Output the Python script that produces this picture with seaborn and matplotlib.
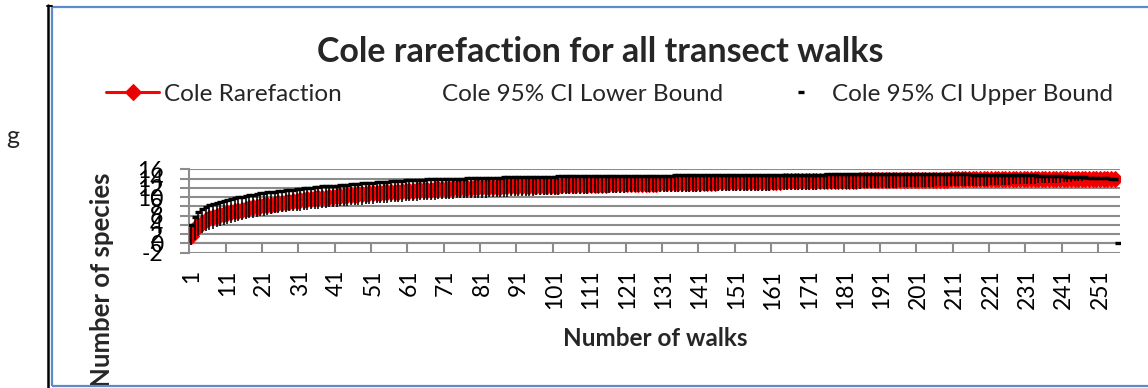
import numpy as np
import pandas as pd
import matplotlib
matplotlib.use("Agg")
import matplotlib.pyplot as plt
from matplotlib.lines import Line2D
from matplotlib.patches import Rectangle
import seaborn as sns

# Walk index (categories); the last category only carries an upper-bound point
walks = np.arange(1, 257)

# Cole rarefaction curve: expected number of species after n walks
rarefaction = [
    1.7, 3.0, 3.9, 4.5, 5.0, 5.4, 5.7, 6.0, 6.2, 6.4,
    6.6, 6.8, 7.0, 7.1, 7.3, 7.5, 7.6, 7.8, 7.9, 8.1,
    8.2, 8.3, 8.4, 8.6, 8.7, 8.8, 8.9, 9.0, 9.1, 9.2,
    9.3, 9.4, 9.5, 9.6, 9.7, 9.8, 9.8, 9.9, 10.0, 10.1,
    10.2, 10.2, 10.3, 10.4, 10.4, 10.5, 10.6, 10.6, 10.7, 10.8,
    10.8, 10.9, 10.9, 11.0, 11.1, 11.1, 11.2, 11.2, 11.3, 11.3,
    11.4, 11.4, 11.5, 11.5, 11.5, 11.6, 11.6, 11.7, 11.7, 11.8,
    11.8, 11.8, 11.9, 11.9, 11.9, 12.0, 12.0, 12.0, 12.1, 12.1,
    12.1, 12.1, 12.2, 12.2, 12.2, 12.2, 12.3, 12.3, 12.3, 12.3,
    12.3, 12.4, 12.4, 12.4, 12.4, 12.4, 12.5, 12.5, 12.5, 12.5,
    12.5, 12.5, 12.6, 12.6, 12.6, 12.6, 12.6, 12.6, 12.7, 12.7,
    12.7, 12.7, 12.7, 12.7, 12.7, 12.8, 12.8, 12.8, 12.8, 12.8,
    12.8, 12.8, 12.9, 12.9, 12.9, 12.9, 12.9, 12.9, 12.9, 13.0,
    13.0, 13.0, 13.0, 13.0, 13.0, 13.0, 13.0, 13.1, 13.1, 13.1,
    13.1, 13.1, 13.1, 13.1, 13.1, 13.2, 13.2, 13.2, 13.2, 13.2,
    13.2, 13.2, 13.2, 13.2, 13.3, 13.3, 13.3, 13.3, 13.3, 13.3,
    13.3, 13.3, 13.3, 13.4, 13.4, 13.4, 13.4, 13.4, 13.4, 13.4,
    13.4, 13.4, 13.4, 13.5, 13.5, 13.5, 13.5, 13.5, 13.5, 13.5,
    13.5, 13.5, 13.5, 13.5, 13.6, 13.6, 13.6, 13.6, 13.6, 13.6,
    13.6, 13.6, 13.6, 13.6, 13.6, 13.6, 13.7, 13.7, 13.7, 13.7,
    13.7, 13.7, 13.7, 13.7, 13.7, 13.7, 13.7, 13.7, 13.7, 13.8,
    13.8, 13.8, 13.8, 13.8, 13.8, 13.8, 13.8, 13.8, 13.8, 13.8,
    13.8, 13.8, 13.8, 13.8, 13.8, 13.8, 13.8, 13.8, 13.9, 13.9,
    13.9, 13.9, 13.9, 13.9, 13.9, 13.9, 13.9, 13.9, 13.9, 13.9,
    13.9, 13.9, 13.9, 13.9, 13.9, 13.9, 13.9, 14.0, 14.0, 14.0,
    14.0, 14.0, 14.0, 14.0, 14.0,
]

# Lower bound of the 95% confidence interval
ci_lower = [
    -0.3, 0.8, 1.6, 2.2, 2.6, 2.9, 3.2, 3.5, 3.8, 4.0,
    4.2, 4.4, 4.7, 4.9, 5.0, 5.2, 5.4, 5.5, 5.7, 5.9,
    6.0, 6.2, 6.3, 6.5, 6.6, 6.7, 6.8, 6.9, 7.0, 7.0,
    7.1, 7.2, 7.3, 7.4, 7.5, 7.5, 7.6, 7.7, 7.8, 7.9,
    7.9, 8.0, 8.1, 8.1, 8.2, 8.3, 8.3, 8.4, 8.5, 8.6,
    8.6, 8.7, 8.7, 8.8, 8.8, 8.9, 8.9, 9.0, 9.0, 9.1,
    9.1, 9.2, 9.2, 9.3, 9.3, 9.3, 9.4, 9.4, 9.5, 9.5,
    9.5, 9.6, 9.6, 9.7, 9.7, 9.7, 9.8, 9.8, 9.8, 9.9,
    9.9, 9.9, 10.0, 10.0, 10.0, 10.1, 10.1, 10.1, 10.2, 10.2,
    10.2, 10.3, 10.3, 10.3, 10.3, 10.4, 10.4, 10.4, 10.5, 10.5,
    10.5, 10.5, 10.6, 10.6, 10.6, 10.6, 10.7, 10.7, 10.7, 10.7,
    10.8, 10.8, 10.8, 10.8, 10.8, 10.9, 10.9, 10.9, 10.9, 10.9,
    11.0, 11.0, 11.0, 11.0, 11.0, 11.1, 11.1, 11.1, 11.1, 11.1,
    11.1, 11.1, 11.1, 11.2, 11.2, 11.2, 11.2, 11.2, 11.2, 11.2,
    11.2, 11.3, 11.3, 11.3, 11.3, 11.3, 11.3, 11.3, 11.3, 11.3,
    11.3, 11.3, 11.4, 11.4, 11.4, 11.4, 11.4, 11.4, 11.4, 11.4,
    11.5, 11.5, 11.5, 11.5, 11.5, 11.6, 11.6, 11.6, 11.6, 11.6,
    11.6, 11.6, 11.6, 11.7, 11.7, 11.7, 11.7, 11.7, 11.7, 11.7,
    11.8, 11.8, 11.8, 11.8, 11.8, 11.9, 11.9, 11.9, 11.9, 11.9,
    12.0, 12.0, 12.0, 12.0, 12.0, 12.1, 12.1, 12.1, 12.1, 12.1,
    12.2, 12.2, 12.2, 12.2, 12.2, 12.3, 12.3, 12.3, 12.3, 12.3,
    12.4, 12.4, 12.4, 12.4, 12.4, 12.5, 12.5, 12.5, 12.5, 12.5,
    12.6, 12.6, 12.6, 12.7, 12.7, 12.7, 12.8, 12.8, 12.8, 12.8,
    12.9, 12.9, 12.9, 13.0, 13.0, 13.0, 13.1, 13.1, 13.1, 13.1,
    13.2, 13.3, 13.3, 13.4, 13.5, 13.5, 13.6, 13.7, 13.7, 13.8,
    13.8, 13.9, 13.9, 14.0, 14.0,
]

# Upper bound of the 95% confidence interval (last entry is an empty cell read as 0)
ci_upper = [
    4.0, 5.8, 6.8, 7.4, 7.8, 8.2, 8.5, 8.7, 9.0, 9.2,
    9.4, 9.6, 9.8, 10.0, 10.1, 10.3, 10.4, 10.5, 10.7, 10.8,
    10.9, 11.0, 11.1, 11.2, 11.3, 11.4, 11.5, 11.6, 11.6, 11.7,
    11.8, 11.9, 12.0, 12.0, 12.1, 12.2, 12.3, 12.3, 12.4, 12.5,
    12.5, 12.6, 12.7, 12.7, 12.8, 12.8, 12.9, 13.0, 13.0, 13.1,
    13.1, 13.2, 13.2, 13.3, 13.3, 13.4, 13.4, 13.5, 13.5, 13.6,
    13.6, 13.6, 13.7, 13.7, 13.7, 13.8, 13.8, 13.8, 13.9, 13.9,
    13.9, 13.9, 14.0, 14.0, 14.0, 14.0, 14.1, 14.1, 14.1, 14.1,
    14.1, 14.2, 14.2, 14.2, 14.2, 14.2, 14.3, 14.3, 14.3, 14.3,
    14.3, 14.3, 14.3, 14.4, 14.4, 14.4, 14.4, 14.4, 14.4, 14.4,
    14.4, 14.5, 14.5, 14.5, 14.5, 14.5, 14.5, 14.5, 14.5, 14.5,
    14.5, 14.5, 14.5, 14.5, 14.5, 14.6, 14.6, 14.6, 14.6, 14.6,
    14.6, 14.6, 14.6, 14.6, 14.6, 14.6, 14.6, 14.6, 14.6, 14.6,
    14.6, 14.6, 14.6, 14.7, 14.7, 14.7, 14.7, 14.7, 14.7, 14.7,
    14.7, 14.7, 14.7, 14.7, 14.7, 14.7, 14.7, 14.7, 14.7, 14.7,
    14.7, 14.7, 14.7, 14.7, 14.8, 14.8, 14.8, 14.8, 14.8, 14.8,
    14.8, 14.8, 14.8, 14.8, 14.8, 14.8, 14.8, 14.8, 14.8, 14.8,
    14.8, 14.8, 14.8, 14.8, 14.8, 14.9, 14.9, 14.9, 14.9, 14.9,
    14.9, 14.9, 14.9, 14.9, 14.9, 14.9, 14.9, 14.9, 14.9, 14.9,
    14.9, 14.9, 14.9, 14.9, 14.9, 14.9, 14.9, 14.9, 14.9, 14.9,
    14.9, 14.9, 14.9, 14.9, 14.9, 14.9, 14.9, 14.9, 14.9, 14.9,
    14.9, 14.9, 14.9, 14.9, 14.9, 14.8, 14.8, 14.8, 14.8, 14.8,
    14.8, 14.8, 14.8, 14.8, 14.8, 14.7, 14.7, 14.7, 14.7, 14.7,
    14.7, 14.7, 14.7, 14.6, 14.6, 14.6, 14.6, 14.5, 14.5, 14.5,
    14.5, 14.4, 14.4, 14.4, 14.3, 14.3, 14.3, 14.2, 14.2, 14.2,
    14.1, 14.1, 14.1, 14.0, 14.0, 0.0,
]

x_labels = [str(w) for w in walks[::10]]
y_values = [-2, 0, 2, 4, 6, 8, 10, 12, 14, 16]

TITLE = "Cole rarefaction for all transect walks"
LABEL_RARE = "Cole Rarefaction"
LABEL_LOW = "Cole 95% CI Lower Bound"
LABEL_UP = "Cole 95% CI Upper Bound"

sns.set_style("white")
plt.rcParams["font.family"] = ["Lato", "DejaVu Sans"]

W, H = 1148, 388
GRID = "#8C8C8C"
LEG_FS = 17.5


def fx(px):
    return px / W


def fy(py):
    return 1 - py / H


fig = plt.figure(figsize=(W / 100, H / 100), dpi=100)
fig.patch.set_facecolor("white")

ax = fig.add_axes([fx(189.3), fy(252.7), fx(1120) - fx(189.3), fy(169.3) - fy(252.7)])
ax.set_facecolor("none")

n = len(rarefaction)
main = pd.DataFrame({"walk": walks[:n], "rare": rarefaction, "lower": ci_lower,
                     "upper": ci_upper[:n]})
upper = pd.DataFrame({"walk": walks, "upper": ci_upper})

# Rarefaction curve with diamond markers
sns.lineplot(data=main, x="walk", y="rare", ax=ax, color="#FF0000", lw=2.2,
             marker="D", markersize=8.5, markerfacecolor="#E80000",
             markeredgecolor="#FF0000", markeredgewidth=0.8, zorder=3,
             legend=False)
h_rare = ax.lines[-1]

# Lower bound has no visible line or marker of its own
sns.lineplot(data=main, x="walk", y="lower", ax=ax, linestyle="none",
             color="black", legend=False)
h_low = ax.lines[-1]

# Vertical CI bars between lower and upper bounds
ax.vlines(main["walk"], main["lower"], main["upper"], colors="black",
          lw=1.15, zorder=4)

# Upper bound drawn as short dash markers
sns.lineplot(data=upper, x="walk", y="upper", ax=ax, linestyle="none",
             marker="_", markersize=5, markeredgecolor="black",
             markeredgewidth=2.4, color="black", zorder=5, legend=False)
h_up = ax.lines[-1]

ax.set_xlim(0.5, 256.5)
ax.set_ylim(-2, 16)
ax.set_yticks(y_values)
ax.set_yticklabels([str(v) for v in y_values])
ax.set_xticks(walks[::10])
ax.set_xticklabels(x_labels)
ax.set_xticks(np.arange(10.5, 256, 10), minor=True)

ax.grid(axis="y", color=GRID, lw=1.5, zorder=0)
ax.grid(axis="x", visible=False)
ax.set_axisbelow(True)
for s in ("top", "right"):
    ax.spines[s].set_visible(False)
ax.spines["left"].set_color(GRID)
ax.spines["left"].set_linewidth(1.5)
ax.spines["bottom"].set_position(("data", 0))
ax.spines["bottom"].set_color(GRID)
ax.spines["bottom"].set_linewidth(1.5)

ax.tick_params(axis="y", which="major", direction="out", length=6.5, width=1.5,
               color=GRID, pad=12.2, labelsize=16.5, labelcolor="black", left=True)
ax.tick_params(axis="x", which="major", length=0, pad=18.9, labelsize=16.5,
               labelrotation=90, labelcolor="black", bottom=True)
ax.tick_params(axis="x", which="minor", direction="out", length=6.5, width=1.5,
               color=GRID, bottom=True)

ax.set_xlabel("Number of walks", fontsize=17.5, fontweight="bold")
ax.xaxis.label.set_va("center")
ax.xaxis.set_label_coords(0.501, (252.7 - 338.7) / 83.4)
ax.set_ylabel("Number of species", fontsize=18.5, fontweight="bold")
ax.yaxis.label.set_va("center")
ax.yaxis.label.set_ha("center")
ax.yaxis.set_label_coords((102.5 - 189.3) / 930.7, (252.7 - 280) / 83.4)

# Title and legend
fig.text(fx(600), fy(62.5), TITLE, ha="center", va="baseline", fontsize=24.5,
         fontweight="bold")

leg_kw = dict(frameon=False, fontsize=LEG_FS, handlelength=2.2, handletextpad=0.2,
              borderpad=0, borderaxespad=0, loc="center left", numpoints=1)
fig.legend([h_rare], [LABEL_RARE], bbox_to_anchor=(fx(106), fy(94)), **leg_kw)
fig.legend([h_low], [LABEL_LOW], bbox_to_anchor=(fx(384), fy(94)), **leg_kw)
fig.legend([h_up], [LABEL_UP], bbox_to_anchor=(fx(774), fy(94)), **leg_kw)

# Stray character at the left margin
fig.text(fx(13), fy(144), "g", ha="center", va="baseline", fontsize=18)

# Frame lines around the chart
fig.add_artist(Line2D([fx(47.8), fx(47.8)], [fy(5), fy(388)], color="black", lw=1.8))
fig.add_artist(Line2D([fx(46.5), fx(52)], [fy(5.5), fy(5.5)], color="black", lw=1.4))
fig.add_artist(Rectangle((fx(51.5), fy(386)), 1.2, fy(6.5) - fy(386), fill=False,
                         edgecolor="#5B8BC9", lw=1.6))

fig.savefig("out.png", dpi=100)
